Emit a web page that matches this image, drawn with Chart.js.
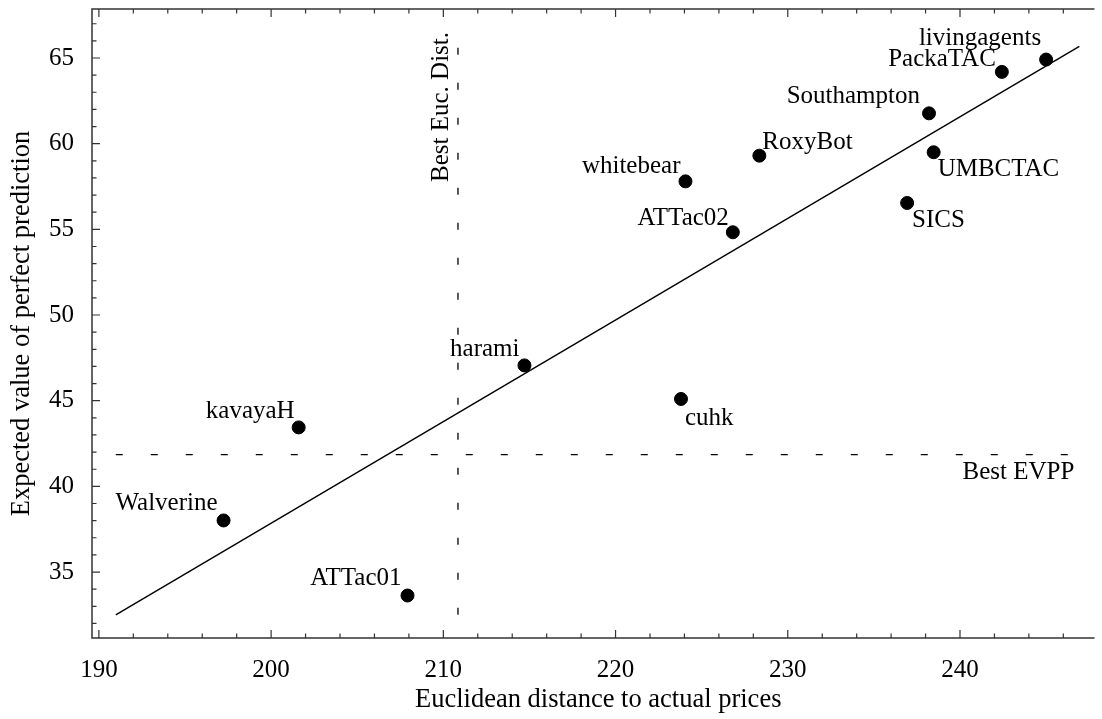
<!DOCTYPE html>
<html>
<head>
<meta charset="utf-8">
<script src="https://cdn.jsdelivr.net/npm/chart.js@4.4.1/dist/chart.umd.min.js"></script>
<style>
  html, body { margin: 0; padding: 0; background: #fff; }
  #wrap { width: 1102px; height: 719px; position: relative; }
</style>
</head>
<body>
<div id="wrap"><canvas id="myChart"></canvas></div>
<script>
// agents and their scores
const agents = ['Walverine', 'kavayaH', 'ATTac01', 'harami', 'cuhk', 'whitebear', 'ATTac02',
  'RoxyBot', 'Southampton', 'PackaTAC', 'livingagents', 'UMBCTAC', 'SICS'];
const eucDist = [197.24, 201.6, 207.92, 214.71, 223.8, 224.06, 226.81, 228.35, 238.2, 242.43, 245.0, 238.47, 236.93];
const evpp = [38.01, 43.44, 33.63, 47.06, 45.1, 57.8, 54.83, 59.3, 61.77, 64.19, 64.91, 59.5, 56.54];

// fitted line end points
const fitX = [190.98, 246.93];
const fitY = [32.5, 65.68];

// reference lines
const bestEucDist = 210.85;
const bestEvpp = 41.85;

// tick labels
const xTicks = [190, 200, 210, 220, 230, 240];
const yTicks = [35, 40, 45, 50, 55, 60, 65];

// where each name sits next to its dot: [align, dx, dy]
const labelPos = {
  Walverine: ['right', -6, -17],
  kavayaH: ['right', -4, -16],
  ATTac01: ['right', -6, -17],
  harami: ['right', -5, -16],
  cuhk: ['left', 4, 19],
  whitebear: ['right', -5, -15],
  ATTac02: ['right', -4, -14],
  RoxyBot: ['left', 3, -13],
  Southampton: ['right', -9, -17],
  PackaTAC: ['right', -6, -12],
  livingagents: ['right', -5, -21],
  UMBCTAC: ['left', 4, 17],
  SICS: ['left', 5, 17]
};

const FONT = '"Liberation Serif", "Times New Roman", serif';

const points = agents.map((a, i) => ({ x: eucDist[i], y: evpp[i] }));
const fitLine = fitX.map((v, i) => ({ x: v, y: fitY[i] }));
const evppLine = [{ x: fitX[0], y: bestEvpp }, { x: fitX[1], y: bestEvpp }];
const eucLine = [{ x: bestEucDist, y: fitY[0] }, { x: bestEucDist, y: fitY[1] }];

// axes, ticks, texts
const decorations = {
  id: 'decorations',
  afterDatasetsDraw(chart) {
    const { ctx, chartArea: a, scales: { x, y } } = chart;
    ctx.save();

    // frame
    ctx.strokeStyle = '#333';
    ctx.lineWidth = 1.5;
    ctx.beginPath();
    ctx.moveTo(a.right, a.top);
    ctx.lineTo(a.left, a.top);
    ctx.lineTo(a.left, a.bottom);
    ctx.lineTo(a.right, a.bottom);
    ctx.stroke();

    // inward ticks
    ctx.lineWidth = 1.2;
    ctx.beginPath();
    for (let v = 190; v <= 247; v += 2) {
      const px = x.getPixelForValue(v);
      const len = v % 10 === 0 ? 8 : 4.5;
      ctx.moveTo(px, a.bottom);
      ctx.lineTo(px, a.bottom - len);
      ctx.moveTo(px, a.top);
      ctx.lineTo(px, a.top + len);
    }
    for (let v = 32; v <= 67; v++) {
      const py = y.getPixelForValue(v);
      const len = v % 5 === 0 ? 8 : 4.5;
      ctx.moveTo(a.left, py);
      ctx.lineTo(a.left + len, py);
    }
    ctx.stroke();

    ctx.fillStyle = '#000';
    ctx.font = '25px ' + FONT;

    // tick labels
    ctx.textAlign = 'center';
    ctx.textBaseline = 'middle';
    xTicks.forEach(v => ctx.fillText(String(v), x.getPixelForValue(v), a.bottom + 32));
    ctx.textAlign = 'right';
    yTicks.forEach(v => ctx.fillText(String(v), a.left - 18, y.getPixelForValue(v)));

    // agent names
    agents.forEach((name, i) => {
      const p = labelPos[name];
      ctx.textAlign = p[0];
      ctx.fillText(name, x.getPixelForValue(eucDist[i]) + p[1], y.getPixelForValue(evpp[i]) + p[2]);
    });

    // reference line labels
    ctx.textAlign = 'right';
    ctx.fillText('Best EVPP', x.getPixelForValue(fitX[1]) - 5, y.getPixelForValue(bestEvpp) + 18);
    ctx.save();
    ctx.translate(x.getPixelForValue(bestEucDist) - 17, a.top + 23);
    ctx.rotate(-Math.PI / 2);
    ctx.textAlign = 'right';
    ctx.fillText('Best Euc. Dist.', 0, 0);
    ctx.restore();

    // axis titles
    ctx.font = '26.5px ' + FONT;
    ctx.textAlign = 'center';
    ctx.fillText('Euclidean distance to actual prices', (a.left + a.right) / 2 + 5, a.bottom + 62);
    ctx.save();
    ctx.translate(22, (a.top + a.bottom) / 2);
    ctx.rotate(-Math.PI / 2);
    ctx.fillText('Expected value of perfect prediction', 0, 0);
    ctx.restore();

    ctx.restore();
  }
};

const config = {
  type: 'scatter',
  data: {
    datasets: [{
      label: 'agents',
      data: points,
      backgroundColor: '#000',
      borderColor: '#000',
      pointRadius: 6.5,
      pointHoverRadius: 6.5,
      order: 0
    }, {
      label: 'fit',
      data: fitLine,
      showLine: true,
      borderColor: '#000',
      borderWidth: 1.4,
      pointRadius: 0,
      order: 1
    }, {
      label: 'best evpp',
      data: evppLine,
      showLine: true,
      borderColor: '#000',
      borderWidth: 1.3,
      borderDash: [7, 28],
      pointRadius: 0,
      order: 2
    }, {
      label: 'best euc',
      data: eucLine,
      showLine: true,
      borderColor: '#000',
      borderWidth: 1.3,
      borderDash: [7, 28],
      pointRadius: 0,
      order: 3
    }]
  },
  options: {
    responsive: true,
    maintainAspectRatio: false,
    animation: false,
    layout: { padding: { left: 92, top: 9, right: 0, bottom: 81 } },
    plugins: { legend: { display: false }, tooltip: { enabled: false } },
    scales: {
      x: { type: 'linear', display: false, min: 189.6, max: 247.81 },
      y: { type: 'linear', display: false, min: 31.15, max: 67.86 }
    }
  },
  plugins: [decorations]
};

const myChart = new Chart(document.getElementById('myChart'), config);
</script>
</body>
</html>
